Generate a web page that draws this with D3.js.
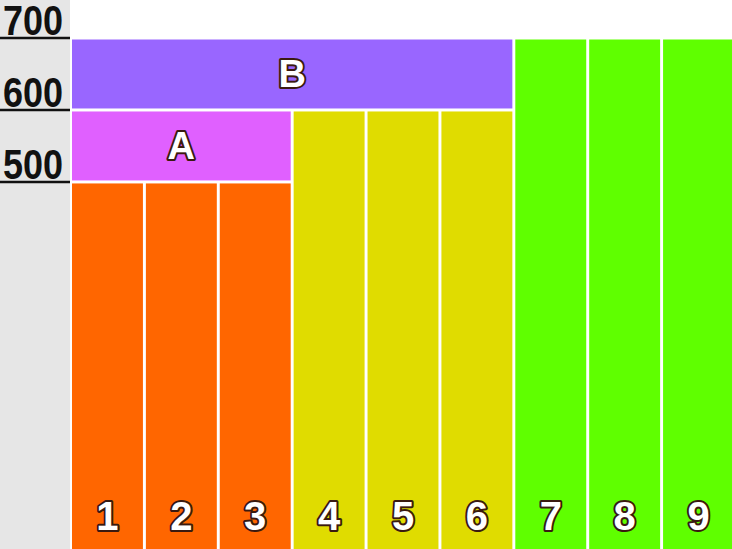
<!DOCTYPE html><html><head><meta charset="utf-8"><script src="https://cdn.jsdelivr.net/npm/d3@7"></script>
<style>body{margin:0;background:#fff}</style></head><body><svg id="c" width="732" height="549"></svg>
<script>
const categories=["1","2","3","4","5","6","7","8","9"];
const values=[500,500,500,600,600,600,700,700,700];
const colors=["#ff6600","#ff6600","#ff6600","#e0dc00","#e0dc00","#e0dc00","#5fff00","#5fff00","#5fff00"];
const groups=[{label:"A",from:0,to:2,low:500,high:600,color:"#e060ff"},{label:"B",from:0,to:5,low:600,high:700,color:"#9966ff"}];
const ticks=[500,600,700];
const svg=d3.select("#c");
const y=d3.scaleLinear().domain([-10,700]).range([549,38]);
const x=d3.scaleBand().domain(categories).range([72,734]).paddingInner(0.04).paddingOuter(0);
svg.append("rect").attr("x",0).attr("y",0).attr("width",70).attr("height",549).attr("fill","#e6e6e6");
ticks.forEach(t=>{
 svg.append("line").attr("x1",0).attr("x2",70).attr("y1",y(t)).attr("y2",y(t)).attr("stroke","#111").attr("stroke-width",2.5);
 svg.append("text").attr("x",3).attr("y",y(t)-3).text(t).attr("font-family","Liberation Sans Narrow, Arial Narrow, Liberation Sans").attr("font-weight","bold").attr("font-size",42).attr("fill","#111").attr("textLength",60).attr("lengthAdjust","spacingAndGlyphs");
});
const lab=(sel)=>sel.attr("font-family","Liberation Sans, Arial").attr("font-weight","bold").attr("fill","#fff").attr("stroke","#3a1a10").attr("stroke-width",4).attr("stroke-linejoin","round").attr("paint-order","stroke").attr("text-anchor","middle");
svg.selectAll(".bar").data(categories).enter().append("rect").attr("x",d=>x(d)).attr("y",(d,i)=>y(values[i])+1.5).attr("width",x.bandwidth()).attr("height",(d,i)=>549-y(values[i])).attr("fill",(d,i)=>colors[i]);
svg.selectAll(".num").data(categories).enter().append("text").attr("x",d=>x(d)+x.bandwidth()/2).attr("y",530).text(d=>d).attr("font-size",40).call(lab);
groups.forEach(g=>{
 const x0=x(categories[g.from]),x1=x(categories[g.to])+x.bandwidth();
 svg.append("rect").attr("x",x0).attr("y",y(g.high)+1.5).attr("width",x1-x0).attr("height",y(g.low)-y(g.high)-3).attr("fill",g.color);
 svg.append("text").attr("x",(x0+x1)/2).attr("y",(y(g.low)+y(g.high))/2+13).text(g.label).attr("font-size",38).call(lab);
});
</script></body></html>
